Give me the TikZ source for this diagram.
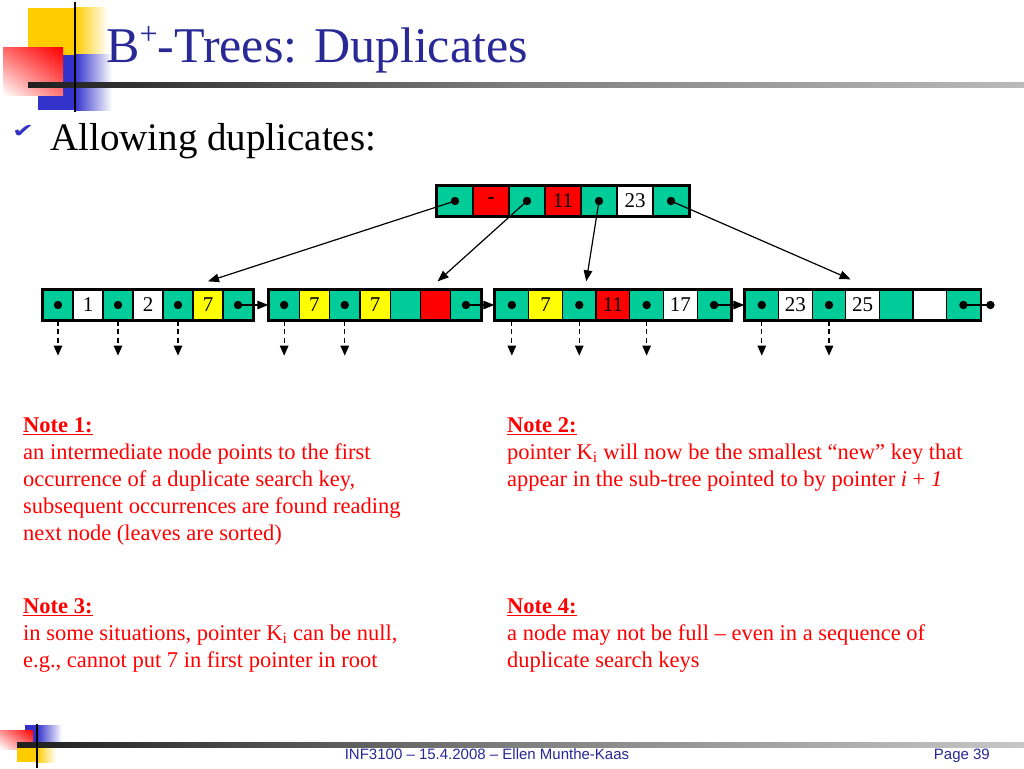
\documentclass[tikz,border=0pt]{standalone}
\usepackage{fontspec}
\setmainfont{Liberation Serif}
\newfontfamily\footfont{Liberation Sans}
\newfontfamily\symfont{DejaVu Sans}
\usetikzlibrary{calc,arrows.meta,shadings}
\definecolor{ptrgreen}{RGB}{0,204,153}
\definecolor{keyred}{RGB}{255,0,0}
\definecolor{keyyellow}{RGB}{255,255,0}
\definecolor{titleblue}{RGB}{40,40,150}
\definecolor{checkblue}{RGB}{50,50,200}
\definecolor{logoyellow}{RGB}{255,204,0}
\definecolor{logoblue}{RGB}{51,51,204}
\tikzset{
	cell/.style={draw=black, line width=1.3pt, minimum height=30pt, inner sep=0pt, font=\fontsize{21}{21}\selectfont},
	ptrline/.style={line width=1.2pt, -{Triangle[length=11pt,width=8.5pt]}},
	downptr/.style={line width=1.2pt, dash pattern=on 5pt off 3.5pt, -{Triangle[length=10pt,width=8.5pt]}},
	note/.style={anchor=north west, inner sep=0pt, align=left, text=red, font=\fontsize{22.5}{27}\selectfont}
}
% name, x of left edge, y of centre, cell width, list of fill/key
\newcommand{\bnode}[5]{
	\foreach \f/\t [count=\i] in {#5}
		\node[cell, fill=\f, minimum width=#4pt] (#1-\i) at ({#2+(\i-0.5)*#4}, #3) {\t};
	\draw[line width=2.6pt] (#1-1.north west) rectangle (#1-7.south east);
}

\begin{document}
\begin{tikzpicture}[x=1pt, y=-1pt]
		%%%%% START %%%%%
		\useasboundingbox (0, 0) rectangle (1024, 768);
		\fill[white] (0, 0) rectangle (1024, 768);
		
		% logo, top
		\fill[logoyellow] (28, 8) rectangle (75, 55);
		\shade[left color=logoyellow, right color=white] (75, 8) rectangle (108, 55);
		\fill[logoblue] (38, 55) rectangle (75, 110);
		\shade[left color=logoblue, right color=white] (75, 55) rectangle (112, 110);
		\shade[upper right=red, upper left=red!60!white, lower left=white, lower right=red!55!white] (3, 48) rectangle (63, 95);
		\shade[left color=black!88, right color=black!27, middle color=black!50] (28, 82) rectangle (1024, 87);
		\draw[line width=2pt] (75, 2) -- (75, 112);
		
		\node[anchor=base west, inner sep=0pt, text=titleblue, font=\fontsize{50}{50}\selectfont] (title) at (106, 63) {B\raisebox{0.36em}{\fontsize{32}{32}\selectfont +}-Trees: Duplicates};
		\node[anchor=base west, inner sep=0pt, text=checkblue, font=\symfont\fontsize{24}{24}\selectfont] (check) at (12, 137) {\scalebox{1.1}[0.8]{✔}};
		\node[anchor=base west, inner sep=0pt, font=\fontsize{39}{39}\selectfont] (bullet) at (50, 150) {Allowing duplicates:};
		
		% root and leaves
		\bnode{root}{437}{201}{36}{ptrgreen/{}, keyred/-, ptrgreen/{}, keyred/11, ptrgreen/{}, white/23, ptrgreen/{}}
		\bnode{leafA}{43}{305}{30}{ptrgreen/{}, white/1, ptrgreen/{}, white/2, ptrgreen/{}, keyyellow/7, ptrgreen/{}}
		\bnode{leafB}{269}{305}{30.3}{ptrgreen/{}, keyyellow/7, ptrgreen/{}, keyyellow/7, ptrgreen/{}, keyred/{}, ptrgreen/{}}
		\bnode{leafC}{495}{305}{33.7}{ptrgreen/{}, keyyellow/7, ptrgreen/{}, keyred/11, ptrgreen/{}, white/17, ptrgreen/{}}
		\bnode{leafD}{745}{305}{33.6}{ptrgreen/{}, white/23, ptrgreen/{}, white/25, ptrgreen/{}, white/{}, ptrgreen/{}}
		
		\foreach \p in {root-1, root-3, root-5, root-7, leafA-1, leafA-3, leafA-5, leafA-7, leafB-1, leafB-3, leafB-7, leafC-1, leafC-3, leafC-5, leafC-7, leafD-1, leafD-3, leafD-7}
			\fill (\p) circle (4.2);
		
		\draw[ptrline] (root-1.center) -- ($(leafA-6.north)+(0, -8)$);
		\draw[ptrline] (root-3.center) -- ($(leafB-6.north)+(2, -8)$);
		\draw[ptrline] (root-5.center) -- ($(leafC-3.north)+(7, -8)$);
		\draw[ptrline] (root-7.center) -- ($(leafD-4.north)+(-12, -10)$);
		
		\draw[ptrline] (leafA-7.center) -- (leafB-1.west);
		\draw[ptrline] (leafB-7.center) -- (leafC-1.west);
		\draw[ptrline] (leafC-7.center) -- (leafD-1.west);
		\coordinate (nullptr) at ($(leafD-7.center)+(27, 0)$);
		\draw[line width=1.2pt] (leafD-7.center) -- (nullptr);
		\fill (nullptr) circle (4.2);
		
		\foreach \p in {leafA-1, leafA-3, leafA-5, leafB-1, leafB-3, leafC-1, leafC-3, leafC-5, leafD-1, leafD-3}
			\draw[downptr] (\p.south) -- ++(0, 35);
		
		% notes
		\node[note] (note1) at (23, 417) {\textbf{\underline{Note 1:}}\\an intermediate node points to the first\\occurrence of a duplicate search key,\\subsequent occurrences are found reading\\next node (leaves are sorted)};
		\node[note] (note2) at (507, 417) {\textbf{\underline{Note 2:}}\\pointer K\textsubscript{i} will now be the smallest “new” key that\\appear in the sub-tree pointed to by pointer \textit{i} + \textit{1}};
		\node[note] (note3) at (23, 598) {\textbf{\underline{Note 3:}}\\in some situations, pointer K\textsubscript{i} can be null,\\e.g., cannot put 7 in first pointer in root};
		\node[note] (note4) at (507, 598) {\textbf{\underline{Note 4:}}\\a node may not be full – even in a sequence of\\duplicate search keys};
		
		% logo and footer, bottom
		\fill[logoblue] (25, 725) rectangle (37, 742);
		\shade[left color=logoblue, right color=white] (37, 725) rectangle (62, 742);
		\shade[upper right=red, upper left=red!45!white, lower left=white, lower right=red!55!white] (0, 730) rectangle (33, 749);
		\fill[logoyellow] (17, 748) rectangle (37, 762);
		\shade[left color=logoyellow, right color=white] (37, 748) rectangle (56, 762);
		\shade[left color=black!88, right color=black!22, middle color=black!50] (17, 742) rectangle (1024, 747);
		\draw[line width=1.5pt] (37, 724) -- (37, 768);
		
		\node[anchor=base, inner sep=0pt, text=titleblue, font=\footfont\fontsize{15}{15}\selectfont] (footer) at (487, 759) {INF3100 – 15.4.2008 – Ellen Munthe-Kaas};
		\node[anchor=base east, inner sep=0pt, text=titleblue, font=\footfont\fontsize{15}{15}\selectfont] (pageno) at (990, 759) {Page 39};
		
		%%%%% END %%%%%
	\end{tikzpicture}
\end{document}
